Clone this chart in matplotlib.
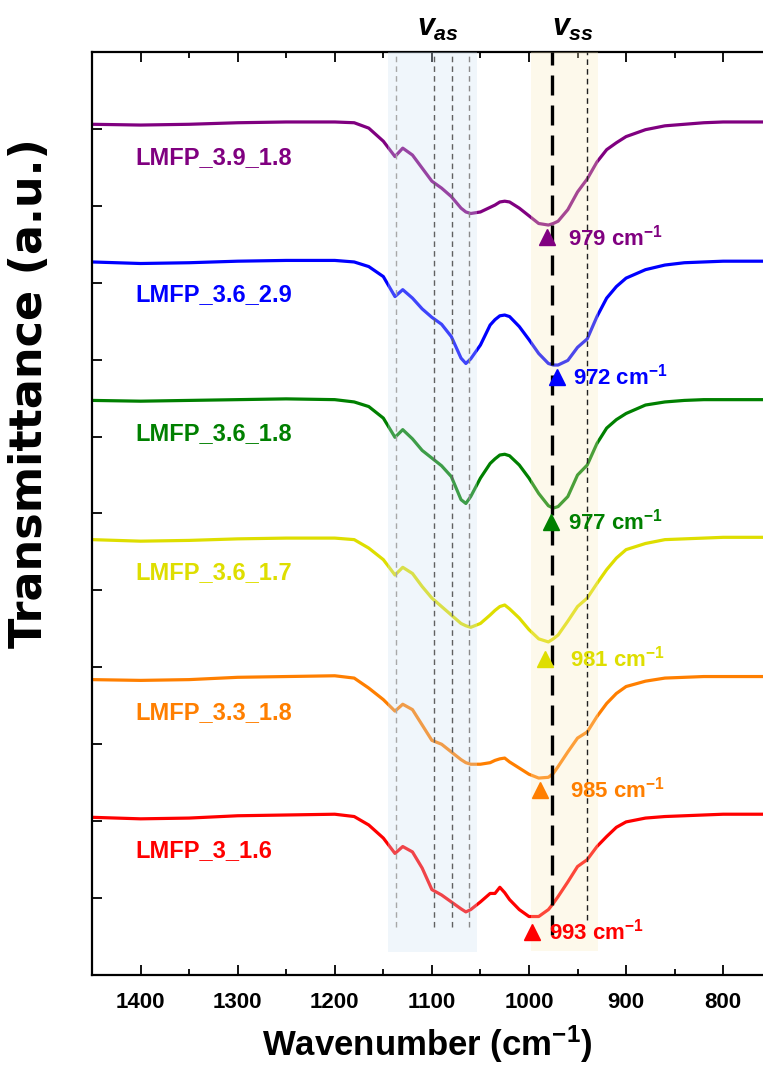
import matplotlib.pyplot as plt
from matplotlib.ticker import MultipleLocator

plt.rcParams['font.family'] = ['Liberation Sans', 'DejaVu Sans']
plt.rcParams['mathtext.fontset'] = 'custom'
plt.rcParams['mathtext.rm'] = 'Liberation Sans:bold'
plt.rcParams['mathtext.it'] = 'Liberation Sans:italic:bold'
plt.rcParams['mathtext.bf'] = 'Liberation Sans:bold'

# wavenumber grid (cm-1) and stacked spectra (a.u.)
wavenumber = [1450, 1400, 1350, 1300, 1250, 1200, 1180, 1165, 1150, 1138,
              1130, 1120, 1110, 1100, 1090, 1080, 1070, 1065, 1060, 1050,
              1040, 1035, 1030, 1025, 1020, 1010, 1000, 990, 980, 975,
              970, 960, 950, 940, 930, 920, 910, 900, 880, 860,
              840, 820, 800, 780, 755]

lmfp_39_18 = [11.06, 11.05, 11.06, 11.08, 11.09, 11.09, 11.08, 11.01, 10.84, 10.64,
              10.75, 10.66, 10.49, 10.32, 10.23, 10.12, 9.97, 9.92, 9.90, 9.92,
              9.98, 10.01, 10.05, 10.06, 10.05, 9.97, 9.87, 9.77, 9.75, 9.77,
              9.80, 9.95, 10.18, 10.35, 10.57, 10.73, 10.82, 10.90, 10.99, 11.04,
              11.06, 11.08, 11.09, 11.09, 11.09]
lmfp_36_29 = [9.27, 9.25, 9.26, 9.28, 9.29, 9.29, 9.27, 9.21, 9.08, 8.82,
              8.91, 8.80, 8.66, 8.55, 8.46, 8.30, 8.02, 7.95, 8.01, 8.19,
              8.45, 8.52, 8.57, 8.58, 8.56, 8.43, 8.26, 8.08, 7.95, 7.93,
              7.93, 7.99, 8.16, 8.27, 8.56, 8.80, 8.95, 9.06, 9.17, 9.23,
              9.26, 9.27, 9.28, 9.28, 9.28]
lmfp_36_18 = [7.47, 7.46, 7.47, 7.48, 7.49, 7.48, 7.45, 7.39, 7.24, 6.99,
              7.09, 6.97, 6.82, 6.72, 6.62, 6.48, 6.18, 6.13, 6.22, 6.46,
              6.65, 6.71, 6.76, 6.77, 6.75, 6.63, 6.46, 6.26, 6.10, 6.07,
              6.09, 6.22, 6.50, 6.63, 6.91, 7.11, 7.22, 7.30, 7.41, 7.45,
              7.47, 7.48, 7.48, 7.48, 7.48]
lmfp_36_17 = [5.66, 5.64, 5.65, 5.67, 5.68, 5.68, 5.66, 5.55, 5.40, 5.20,
              5.30, 5.22, 5.05, 4.90, 4.79, 4.68, 4.57, 4.54, 4.52, 4.57,
              4.68, 4.74, 4.79, 4.81, 4.76, 4.64, 4.49, 4.37, 4.33, 4.37,
              4.42, 4.60, 4.79, 4.90, 5.09, 5.27, 5.42, 5.53, 5.61, 5.66,
              5.67, 5.68, 5.69, 5.69, 5.69]
lmfp_33_18 = [3.84, 3.83, 3.84, 3.87, 3.88, 3.89, 3.86, 3.73, 3.58, 3.43,
              3.52, 3.45, 3.25, 3.05, 3.00, 2.90, 2.80, 2.76, 2.74, 2.74,
              2.76, 2.79, 2.81, 2.82, 2.77, 2.69, 2.61, 2.56, 2.57, 2.62,
              2.71, 2.90, 3.08, 3.16, 3.36, 3.53, 3.66, 3.75, 3.82, 3.86,
              3.87, 3.88, 3.88, 3.88, 3.88]
lmfp_3_16 = [2.05, 2.03, 2.04, 2.07, 2.08, 2.09, 2.06, 1.95, 1.78, 1.58,
             1.67, 1.60, 1.39, 1.11, 1.04, 0.95, 0.86, 0.82, 0.85, 0.95,
             1.06, 1.06, 1.14, 1.07, 0.98, 0.85, 0.76, 0.76, 0.85, 0.93,
             1.02, 1.21, 1.41, 1.50, 1.67, 1.80, 1.92, 1.99, 2.04, 2.06,
             2.07, 2.08, 2.09, 2.09, 2.09]

samples = ['LMFP_3.9_1.8', 'LMFP_3.6_2.9', 'LMFP_3.6_1.8',
           'LMFP_3.6_1.7', 'LMFP_3.3_1.8', 'LMFP_3_1.6']
spectra = [lmfp_39_18, lmfp_36_29, lmfp_36_18, lmfp_36_17, lmfp_33_18, lmfp_3_16]
colors = ['#800080', '#0000ff', '#008000', '#dede00', '#ff7f00', '#ff0000']

# v_ss peak markers
peak_labels = ['979', '972', '977', '981', '985', '993']
peak_wn = [981, 971, 977, 983, 989, 997]
peak_y = [9.59, 7.78, 5.89, 4.11, 2.41, 0.56]
peak_text_wn = [960, 955, 960, 958, 958, 979]

vas_lines = [1137, 1098, 1079, 1062]
vas_line_colors = ['#a8a8a8', '#606060', '#606060', '#8a8a8a']
vss_line = 976
shoulder_line = 940

fig = plt.figure(figsize=(7.63, 10.74), dpi=100)
ax = fig.add_axes([0.1206, 0.0922, 0.8794, 0.8594])

for name, vals, c in zip(samples, spectra, colors):
    ax.plot(wavenumber, vals, color=c, lw=2.3, zorder=2)
    ax.text(1405, vals[0] - 0.43, name, color=c, fontsize=17,
            fontweight='bold', ha='left', va='center', zorder=6)

# shaded regions for v_as and v_ss (drawn over the curves, semi transparent)
ax.axvspan(1054, 1145, ymin=0.025, ymax=1, color='#cfe2f3', alpha=0.3, lw=0, zorder=3)
ax.axvspan(929, 998, ymin=0.026, ymax=1, color='#fbecc0', alpha=0.3, lw=0, zorder=3)

for w, c in zip(vas_lines, vas_line_colors):
    ax.axvline(w, ymin=0.052, ymax=1, color=c, lw=1.0, ls=(0, (4, 3)), zorder=4)
ax.axvline(shoulder_line, ymin=0.06, ymax=1, color='#202020', lw=1.0, ls=(0, (4, 3)), zorder=4)
ax.axvline(vss_line, ymin=0.043, ymax=1, color='black', lw=2.4, ls=(0, (6, 3)), zorder=4)

for lbl, w, y, tw, c in zip(peak_labels, peak_wn, peak_y, peak_text_wn, colors):
    ax.plot([w], [y], marker='^', ms=11, color=c, ls='none', zorder=6)
    ax.text(tw, y, lbl + r' cm$^{-1}$', color=c, fontsize=16, fontweight='bold',
            ha='left', va='center', zorder=6)

ax.text(1094, 1.026, r'$v_{as}$', transform=ax.get_xaxis_transform(),
        fontsize=22, ha='center', va='center')
ax.text(955, 1.026, r'$v_{ss}$', transform=ax.get_xaxis_transform(),
        fontsize=22, ha='center', va='center')

ax.set_xlim(1450, 759)
ax.set_ylim(0, 12)
ax.xaxis.set_major_locator(MultipleLocator(100))
ax.xaxis.set_minor_locator(MultipleLocator(50))
ax.yaxis.set_major_locator(MultipleLocator(1))
ax.tick_params(which='both', direction='in', top=True, bottom=True,
               left=True, right=False, width=1.3, labelleft=False)
ax.tick_params(which='major', length=7, labelsize=16, pad=12)
ax.tick_params(which='minor', length=4)
ax.tick_params(axis='y', which='minor', left=False)
for t in ax.get_xticklabels():
    t.set_fontweight('bold')
for s in ['left', 'bottom', 'top']:
    ax.spines[s].set_linewidth(1.6)
ax.spines['right'].set_visible(False)

ax.set_xlabel('Wavenumber (cm$^{-1}$)', fontsize=25, fontweight='bold', labelpad=8)
fig.text(30 / 763, 1 - 393 / 1074, 'Transmittance (a.u.)', rotation=90,
         fontsize=32, fontweight='bold', family=['DejaVu Sans'],
         ha='center', va='center')

fig.savefig('out.png', dpi=100)
